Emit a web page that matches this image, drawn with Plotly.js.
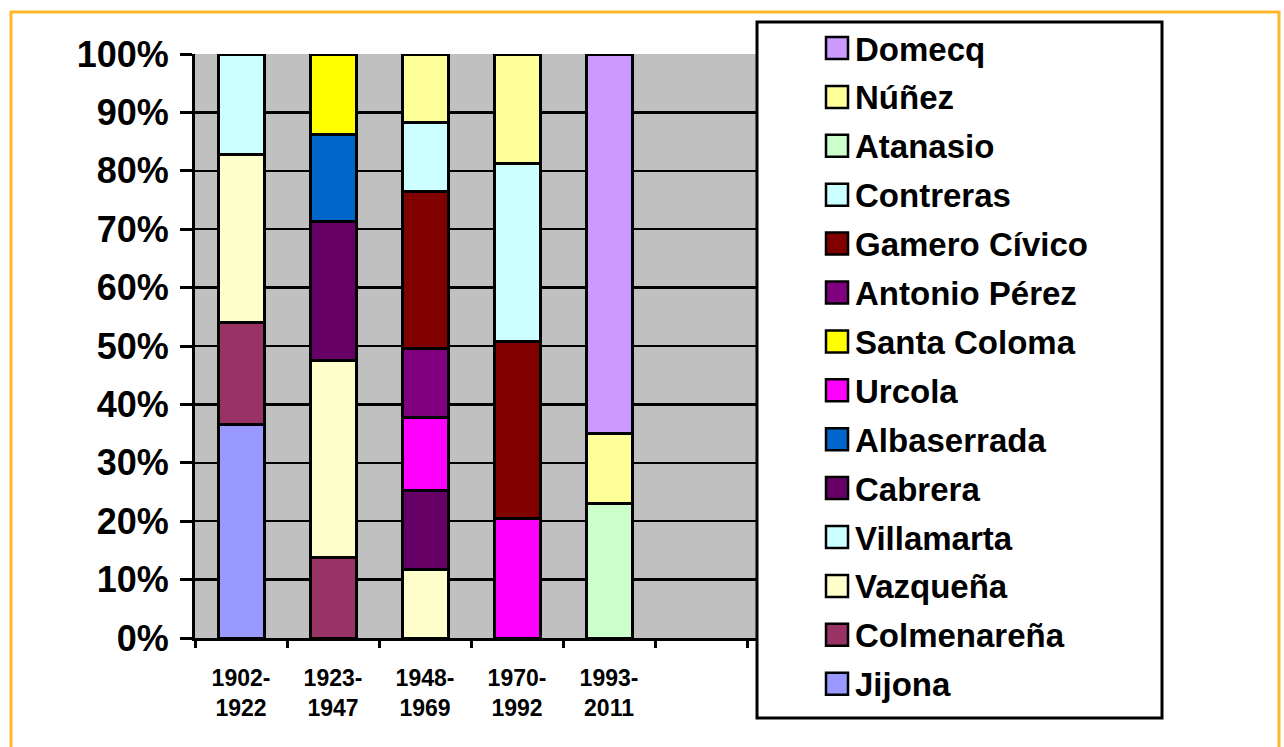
<!DOCTYPE html>
<html>
<head>
<meta charset="utf-8">
<script src="https://cdn.plot.ly/plotly-3.0.1.min.js"></script>
<style>html,body{margin:0;padding:0;background:#fff;}#chart{width:1284px;height:747px;}</style>
</head>
<body>
<div id="chart"></div>
<script>
// ---- data ----
const periodLabels = ['1902-<br>1922', '1923-<br>1947', '1948-<br>1969', '1970-<br>1992', '1993-<br>2011'];
const periodIndex = [0, 1, 2, 3, 4];

const seriesNames = ['Jijona', 'Colmenareña', 'Vazqueña', 'Villamarta', 'Cabrera', 'Albaserrada', 'Urcola',
  'Santa Coloma', 'Antonio Pérez', 'Gamero Cívico', 'Contreras', 'Atanasio', 'Núñez', 'Domecq'];
const seriesColors = ['#9999FF', '#993366', '#FFFFCC', '#CCFFFF', '#660066', '#0066CC', '#FF00FF',
  '#FFFF00', '#800080', '#800000', '#CCFFFF', '#CCFFCC', '#FFFF99', '#CC99FF'];

const jijona       = [36.6, null, null, null, null];
const colmenarena  = [17.4, 13.8, null, null, null];
const vazquena     = [28.8, 33.8, 11.7, null, null];
const villamarta   = [17.2, null, null, null, null];
const cabrera      = [null, 23.7, 13.6, null, null];
const albaserrada  = [null, 14.9, null, null, null];
const urcola       = [null, null, 12.4, 20.4, null];
const santaColoma  = [null, 13.8, null, null, null];
const antonioPerez = [null, null, 11.9, null, null];
const gameroCivico = [null, null, 26.8, 30.4, null];
const contreras    = [null, null, 11.8, 30.4, null];
const atanasio     = [null, null, null, null, 23.0];
const nunez        = [null, null, 11.8, 18.8, 12.1];
const domecq       = [null, null, null, null, 64.9];

const seriesValues = [jijona, colmenarena, vazquena, villamarta, cabrera, albaserrada, urcola,
  santaColoma, antonioPerez, gameroCivico, contreras, atanasio, nunez, domecq];

const yTickVals = [0, 10, 20, 30, 40, 50, 60, 70, 80, 90, 100];
const yTickText = ['0%', '10%', '20%', '30%', '40%', '50%', '60%', '70%', '80%', '90%', '100%'];
const xBoundaries = [-0.5, 0.5, 1.5, 2.5, 3.5, 4.5, 5.5];

// ---- layout geometry ----
const W = 1284, H = 747;
const L = 195, R = 757, T = 54, B = 638;
const pw = R - L, ph = B - T;
const xp = px => (px - L) / pw;
const yp = py => (B - py) / ph;
const FONT = '"Liberation Sans", Arial, sans-serif';

const traces = seriesNames.map((name, i) => ({
  type: 'bar',
  name: name,
  x: periodIndex,
  y: seriesValues[i],
  width: 0.5,
  marker: { color: seriesColors[i], line: { color: '#000000', width: 3 } },
  showlegend: false,
  hoverinfo: 'name+y'
}));

const shapes = [];
const annotations = [];

// outer orange frame
shapes.push({ type: 'rect', xref: 'paper', yref: 'paper', layer: 'above',
  x0: xp(11), x1: xp(1279), y0: yp(770), y1: yp(12),
  line: { color: '#FFB627', width: 3 }, fillcolor: 'rgba(0,0,0,0)' });

// legend box
shapes.push({ type: 'rect', xref: 'paper', yref: 'paper', layer: 'above',
  x0: xp(757), x1: xp(1162), y0: yp(718), y1: yp(22),
  line: { color: '#000000', width: 3 }, fillcolor: '#FFFFFF' });

// legend items (top item is the last series)
const nItems = seriesNames.length;
for (let k = 0; k < nItems; k++) {
  const i = nItems - 1 - k;
  const cy = 48 + k * 48.9;
  shapes.push({ type: 'rect', xref: 'paper', yref: 'paper', layer: 'above',
    x0: xp(826), x1: xp(848), y0: yp(cy + 11), y1: yp(cy - 11),
    line: { color: '#000000', width: 2.5 }, fillcolor: seriesColors[i] });
  annotations.push({ xref: 'paper', yref: 'paper', x: xp(853), y: yp(cy + 1),
    xanchor: 'left', yanchor: 'middle', showarrow: false, text: seriesNames[i],
    font: { family: FONT, size: 33, weight: 700, color: '#000000' } });
}

const layout = {
  width: W, height: H,
  margin: { l: L, r: W - R, t: T, b: H - B, pad: 0 },
  paper_bgcolor: '#FFFFFF',
  plot_bgcolor: '#C0C0C0',
  barmode: 'stack',
  showlegend: false,
  font: { family: FONT, color: '#000000' },
  xaxis: {
    range: [-0.5, -0.5 + pw / 92],
    tickmode: 'array', tickvals: periodIndex, ticktext: periodLabels,
    ticks: '', showgrid: false, zeroline: false,
    showline: true, linecolor: '#000000', linewidth: 3,
    tickfont: { family: FONT, size: 23, weight: 700, color: '#000000' },
    ticklabelstandoff: 17,
    minor: { tickmode: 'array', tickvals: xBoundaries, ticks: 'outside', ticklen: 7, tickwidth: 3,
      tickcolor: '#000000', showgrid: false },
    fixedrange: true
  },
  yaxis: {
    range: [0, 100],
    tickmode: 'array', tickvals: yTickVals, ticktext: yTickText,
    ticks: 'outside', ticklen: 12, tickwidth: 3, tickcolor: '#000000',
    showgrid: true, gridcolor: '#000000', gridwidth: 2.5,
    zeroline: false, showline: true, linecolor: '#000000', linewidth: 3,
    tickfont: { family: FONT, size: 36, weight: 700, color: '#000000' },
    ticklabelstandoff: 4,
    fixedrange: true
  },
  shapes: shapes,
  annotations: annotations
};

Plotly.newPlot('chart', traces, layout, { displayModeBar: false, staticPlot: true });
</script>
</body>
</html>
